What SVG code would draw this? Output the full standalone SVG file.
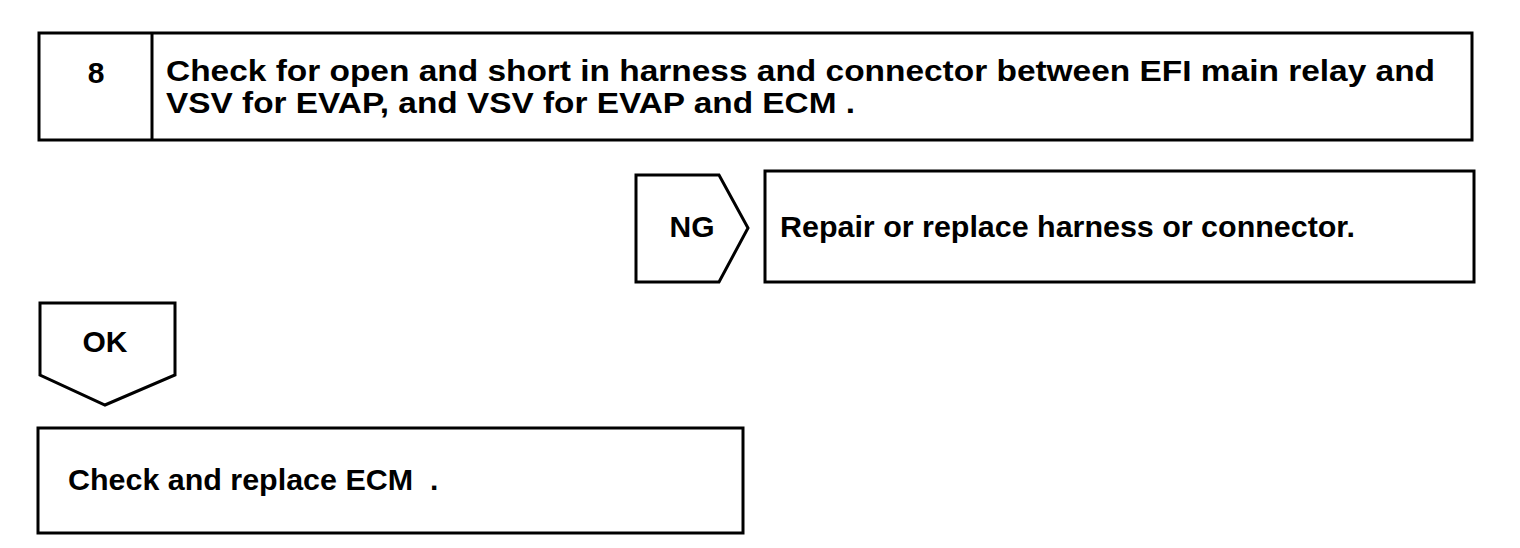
<svg xmlns="http://www.w3.org/2000/svg" width="1520" height="548" viewBox="0 0 1520 548">
<style>
.box{fill:#fff;stroke:#000;stroke-width:3;stroke-linejoin:miter}
.t{font-family:"Liberation Sans",Arial,Helvetica,sans-serif;font-weight:bold;fill:#000}
.big{font-size:29px}
.med{font-size:30px}
</style>
<rect width="1520" height="548" fill="#fff"/>
<g id="step8">
<rect class="box" x="39" y="33" width="1433" height="107"/>
<line x1="152" y1="33" x2="152" y2="140" stroke="#000" stroke-width="3"/>
<text class="t med" x="96" y="83" text-anchor="middle">8</text>
<text class="t big" x="166" y="81" textLength="1269" lengthAdjust="spacingAndGlyphs">Check for open and short in harness and connector between EFI main relay and</text>
<text class="t big" x="166" y="113" textLength="689" lengthAdjust="spacingAndGlyphs">VSV for EVAP, and VSV for EVAP and ECM .</text>
</g>
<g id="repair">
<rect class="box" x="765" y="171" width="709" height="111"/>
<text class="t med" x="780" y="237" textLength="575" lengthAdjust="spacingAndGlyphs">Repair or replace harness or connector.</text>
</g>
<g id="ecm">
<rect class="box" x="38" y="428" width="705" height="105"/>
<text class="t med" x="68" y="490" textLength="345" lengthAdjust="spacingAndGlyphs">Check and replace ECM</text>
<text class="t med" x="430" y="490">.</text>
</g>
<g id="connectors">
<g id="ng">
<polygon class="box" points="636,175 719,175 748,228 719,282 636,282"/>
<text class="t med" x="692" y="237" text-anchor="middle">NG</text>
</g>
<g id="ok">
<polygon class="box" points="40,303 175,303 175,375 105,405 40,375"/>
<text class="t med" x="105" y="352" text-anchor="middle">OK</text>
</g>
</g>
</svg>
